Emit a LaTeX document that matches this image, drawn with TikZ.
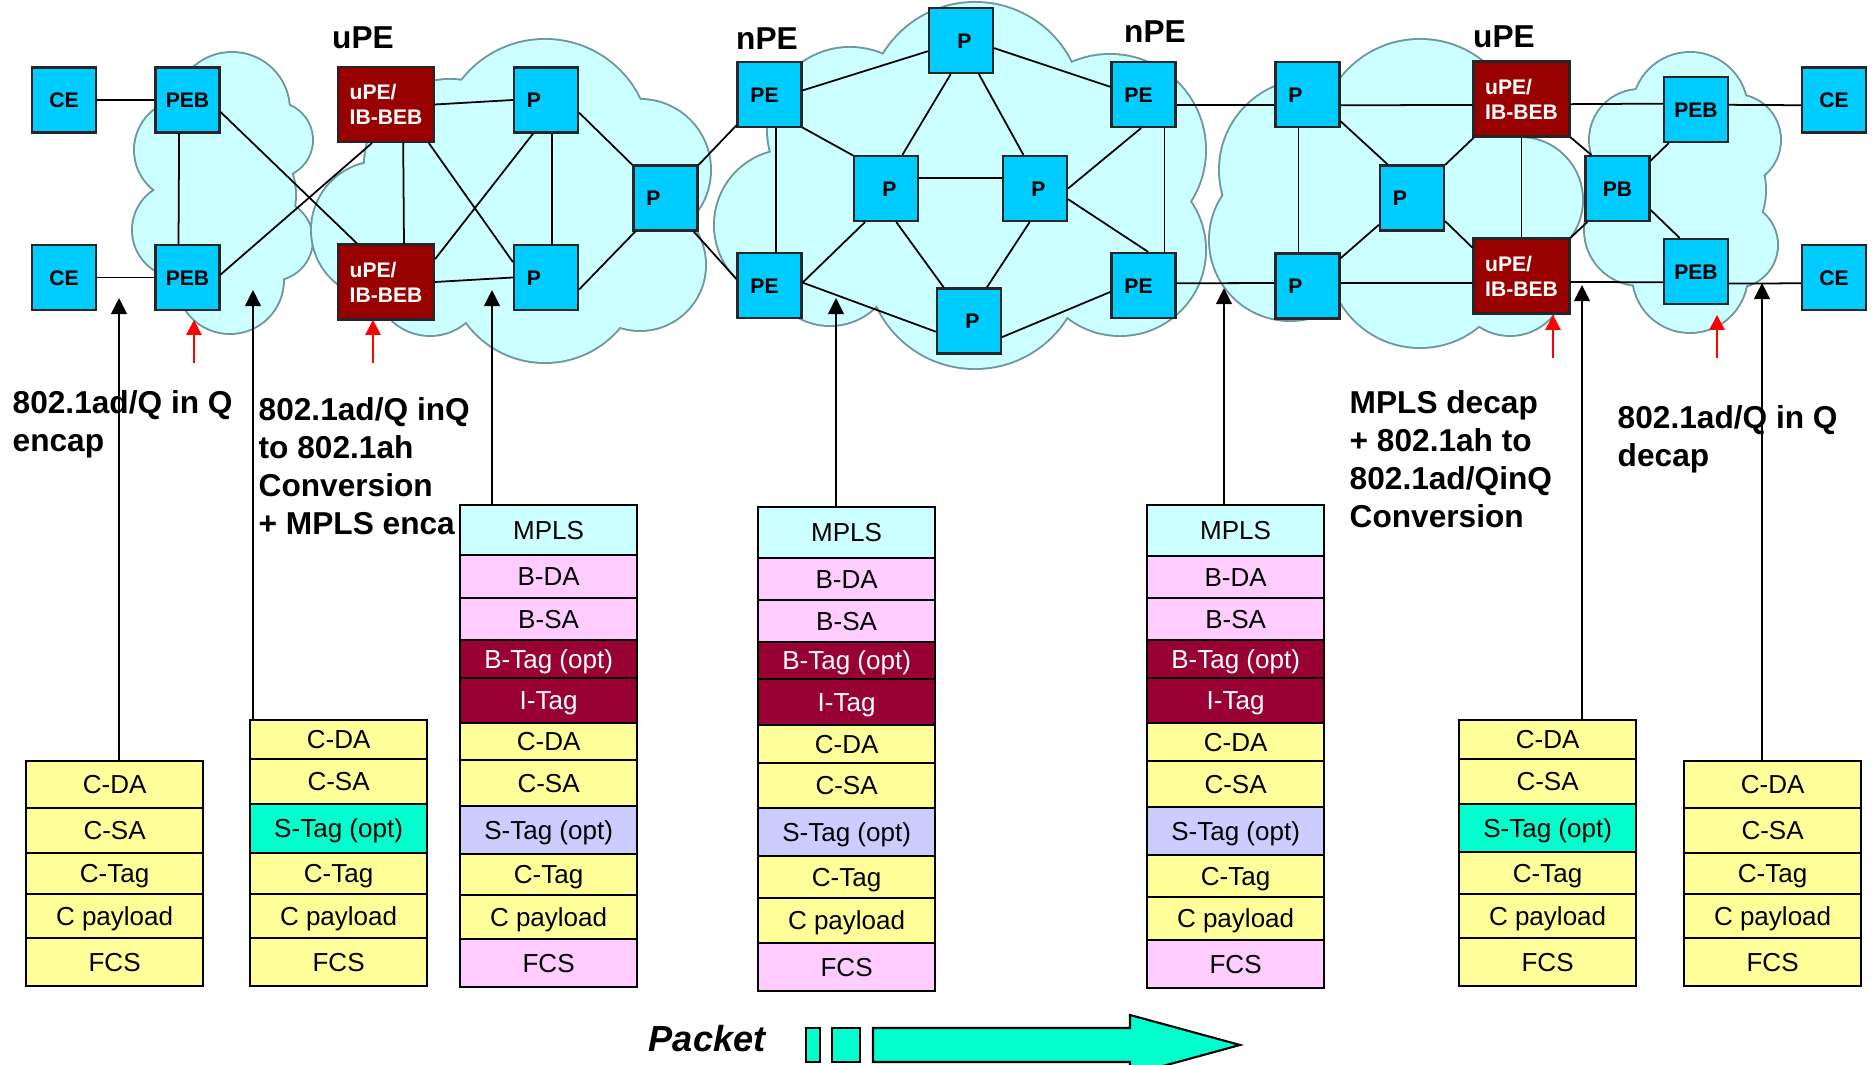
\documentclass[tikz,border=0pt]{standalone}
\usepackage{fontspec}
\setmainfont{Liberation Sans}
\usetikzlibrary{arrows.meta}
\definecolor{boxcyan}{RGB}{0,204,255}
\definecolor{bebred}{RGB}{153,0,0}
\definecolor{cloudfillc}{RGB}{204,255,255}
\definecolor{cloudedgec}{RGB}{110,150,155}
\definecolor{ryel}{RGB}{255,255,153}
\definecolor{rpink}{RGB}{255,204,255}
\definecolor{rmpls}{RGB}{204,255,255}
\definecolor{rcrim}{RGB}{153,0,51}
\definecolor{rlav}{RGB}{204,204,255}
\definecolor{raqua}{RGB}{0,255,204}
\newcommand\fnode{\fontsize{6pt}{7.1pt}\selectfont\bfseries}
\newcommand\frow{\fontsize{7.4pt}{9pt}\selectfont}
\newcommand\fbig{\fontsize{9pt}{10.8pt}\selectfont\bfseries}
\newcommand\fpk{\fontsize{10.3pt}{12pt}\selectfont\bfseries\itshape}
\newcommand\drawcloud[1]{%
  \foreach \cx/\cy/\r in {#1} {\draw[cloudline] (\cx,\cy) circle (\r cm);}
  \foreach \cx/\cy/\r in {#1} {\fill[cloudfillc] (\cx,\cy) circle (\r cm);}}
\newcommand\stackrows[3]{%
  \foreach \lab/\st/\ya/\yb [count=\i] in {#3} {
    \node[stackrow,\st,minimum height={(\yb-\ya)*0.01cm}] (#1-\i) at (#2,\ya) {\lab};}}
\begin{document}
\begin{tikzpicture}[x=0.01cm,y=-0.01cm,
  cloudline/.style={draw=cloudedgec,line width=1.1pt},
  netbox/.style={draw=black!85,line width=0.6pt,fill=boxcyan,minimum width=0.64cm,minimum height=0.65cm,inner sep=0pt,font=\fnode,text height=4.3pt,text depth=0pt},
  bebbox/.style={draw=black!85,line width=0.6pt,fill=bebred,text=white,minimum width=0.96cm,minimum height=0.75cm,inner sep=0pt,font=\fnode,align=left},
  stackrow/.style={draw=black,line width=0.6pt,inner sep=0pt,anchor=north west,minimum width=1.77cm,font=\frow,text height=5.3pt,text depth=0pt},
  yel/.style={fill=ryel},pnk/.style={fill=rpink},mpl/.style={fill=rmpls},
  crim/.style={fill=rcrim,text=white},lav/.style={fill=rlav},aq/.style={fill=raqua},
  conn/.style={line width=0.5pt,black},
  upar/.style={line width=0.55pt,-{Triangle[width=4.5pt,length=4.6pt]}},
  redar/.style={red,line width=0.5pt,-{Triangle[width=4.3pt,length=4.2pt]}},
  bigtxt/.style={font=\fbig,align=left,inner sep=0pt},
  pksq/.style={draw=black,line width=0.6pt,fill=raqua,minimum height=0.34cm,inner sep=0pt}]
\path[use as bounding box] (0,0) rectangle (1875,1065);
% clouds
\drawcloud{232/110/0.57, 185/150/0.50, 180/230/0.47, 230/280/0.53, 275/140/0.37, 272/240/0.40, 225/195/0.70}
\drawcloud{545/145/1.05, 450/165/0.85, 380/230/0.68, 545/265/0.97, 640/170/0.70, 640/265/0.65, 430/280/0.55, 520/200/1.10}
\drawcloud{975/110/1.07, 850/130/0.82, 790/225/0.75, 830/260/0.65, 975/260/1.08, 1110/150/0.95, 1120/250/0.85, 975/190/1.2}
\drawcloud{1420/140/1.00, 1310/170/0.90, 1290/240/0.80, 1420/255/0.92, 1520/200/0.62, 1510/280/0.55, 1410/200/1.10}
\drawcloud{1690/110/0.57, 1640/140/0.50, 1640/230/0.55, 1690/275/0.57, 1735/140/0.45, 1735/245/0.42, 1690/190/0.75}
% network nodes
\node[netbox] (CE1) at (64,100) {CE};
\node[netbox] (CE2) at (64,277.5) {CE};
\node[netbox] (PEB1) at (187.5,100) {PEB};
\node[netbox] (PEB2) at (187.5,277.5) {PEB};
\node[bebbox] (BEB1) at (386,104.5) {uPE/\\IB-BEB};
\node[bebbox] (BEB2) at (386,282) {uPE/\\IB-BEB};
\node[netbox] (P1) at (546,100) {P\kern0.24cm};
\node[netbox] (P2) at (546,277.5) {P\kern0.24cm};
\node[netbox] (P3) at (665.5,198) {P\kern0.24cm};
\node[netbox] (PE1) at (769.5,94.5) {PE\kern0.1cm};
\node[netbox] (PE2) at (769.5,285.5) {PE\kern0.1cm};
\node[netbox] (Ptop) at (961,40.5) {\kern0.07cm P};
\node[netbox] (Pml) at (886,188.5) {\kern0.07cm P};
\node[netbox] (Pmr) at (1035,188.5) {\kern0.07cm P};
\node[netbox] (Pbot) at (969,321) {\kern0.07cm P};
\node[netbox] (PE3) at (1143.5,94.5) {PE\kern0.1cm};
\node[netbox] (PE4) at (1143.5,285.5) {PE\kern0.1cm};
\node[netbox] (P4) at (1307.5,94.5) {P\kern0.24cm};
\node[netbox] (P5) at (1307.5,286) {P\kern0.24cm};
\node[netbox] (P6) at (1412,198) {P\kern0.24cm};
\node[bebbox] (BEB3) at (1521.5,99) {uPE/\\IB-BEB};
\node[bebbox] (BEB4) at (1521.5,276) {uPE/\\IB-BEB};
\node[netbox] (PB) at (1617.5,188.5) {PB};
\node[netbox] (PEB3) at (1696,109.5) {PEB};
\node[netbox] (PEB4) at (1696,271.5) {PEB};
\node[netbox] (CE3) at (1834,100) {CE};
\node[netbox] (CE4) at (1834,277.5) {CE};
% links
\draw[conn] (CE1.east) -- (PEB1.west);
\draw[conn] (CE2.east) -- (PEB2.west);
\draw[conn] (PEB1.-104) -- (PEB2.105);
\draw[conn] (PEB1.-20) -- (BEB2.127);
\draw[conn] (PEB2.5) -- (BEB1.-110);
\draw[conn] (BEB1.east) -- (P1.west);
\draw[conn] (BEB2.east) -- (P2.west);
\draw[conn] (BEB1.-66) -- (BEB2.65);
\draw[conn] (BEB1.-42) -- (P2.155);
\draw[conn] (BEB2.25) -- (P1.-111);
\draw[conn] (P1.-80) -- (P2.80);
\draw[conn] (P1.-21) -- (P3.135);
\draw[conn] (P2.-20) -- (P3.-132);
\draw[conn] (P3.45) -- (PE1.-137);
\draw[conn] (P3.-50) -- (PE2.169);
\draw[conn] (PE1.7) -- (Ptop.198);
\draw[conn] (PE1.-45) -- (Pml.135);
\draw[conn] (PE1.-79) -- (PE2.79);
\draw[conn] (Ptop.-107) -- (Pml.64);
\draw[conn] (Ptop.-62) -- (Pmr.109);
\draw[conn] (Ptop.-13) -- (PE3.167);
\draw[conn] (Pml.17) -- (Pmr.163);
\draw[conn] (Pmr.east) -- (PE3.-94);
\draw[conn] (Pmr.-18) -- (PE4.82);
\draw[conn] (PE3.-58) -- (PE4.58);
\draw[conn] (Pml.-122) -- (PE2.5);
\draw[conn] (PE2.5) -- (Pbot.198);
\draw[conn] (Pml.-73) -- (Pbot.127);
\draw[conn] (Pmr.-99) -- (Pbot.62);
\draw[conn] (Pbot.-26) -- (PE4.191);
\draw[conn] (PE3.-18) -- (P4.198);
\draw[conn] (PE4.4) -- (P5.175);
\draw[conn] (P4.-18) -- (BEB3.187);
\draw[conn] (P5.5) -- (BEB4.188);
\draw[conn] (P4.-105) -- (P5.105);
\draw[conn] (P4.-39) -- (P6.126);
\draw[conn] (P5.40) -- (P6.219);
\draw[conn] (P6.45) -- (BEB3.219);
\draw[conn] (P6.-35) -- (BEB4.150);
\draw[conn] (BEB3.south) -- (BEB4.north);
\draw[conn] (BEB3.-6) -- (PEB3.170);
\draw[conn] (BEB4.-7) -- (PEB4.198);
\draw[conn] (BEB3.-38) -- (PB.128);
\draw[conn] (BEB4.38) -- (PB.228);
\draw[conn] (PB.40) -- (PEB3.231);
\draw[conn] (PB.-33) -- (PEB4.116);
\draw[conn] (PEB3.8) -- (CE3.189);
\draw[conn] (PEB4.-20) -- (CE4.190);
% header labels
\node[font=\fbig,inner sep=0pt,anchor=base] (hl1) at (363,49) {uPE};
\node[font=\fbig,inner sep=0pt,anchor=base] (hl2) at (767,50) {nPE};
\node[font=\fbig,inner sep=0pt,anchor=base] (hl3) at (1155,43) {nPE};
\node[font=\fbig,inner sep=0pt,anchor=base] (hl4) at (1504,48) {uPE};
% descriptions
\node[bigtxt,anchor=north west] (d1) at (12,390) {802.1ad/Q in Q\\encap};
\node[bigtxt,anchor=north west] (d2) at (258,397) {802.1ad/Q inQ\\to 802.1ah\\Conversion\\+ MPLS enca};
\node[bigtxt,anchor=north west] (d3) at (1349,390) {MPLS decap\\+ 802.1ah to\\802.1ad/QinQ\\Conversion};
\node[bigtxt,anchor=north west] (d4) at (1617,405) {802.1ad/Q in Q\\decap};
% stacks
\stackrows{s1}{25}{C-DA/yel/760/807, C-SA/yel/807/852, C-Tag/yel/852/893, C payload/yel/893/937, FCS/yel/937/985}
\stackrows{s2}{249}{C-DA/yel/719/758, C-SA/yel/758/803, {S-Tag (opt)}/aq/803/852, C-Tag/yel/852/893, C payload/yel/893/937, FCS/yel/937/985}
\stackrows{s3}{459}{MPLS/mpl/504/554, B-DA/pnk/554/597, B-SA/pnk/597/639, {B-Tag (opt)}/crim/639/677, I-Tag/crim/677/722, C-DA/yel/722/759, C-SA/yel/759/805, {S-Tag (opt)}/lav/805/853, C-Tag/yel/853/894, C payload/yel/894/938, FCS/pnk/938/986}
\stackrows{s4}{757}{MPLS/mpl/506/557, B-DA/pnk/557/599, B-SA/pnk/599/641, {B-Tag (opt)}/crim/641/678, I-Tag/crim/678/724, C-DA/yel/724/762, C-SA/yel/762/807, {S-Tag (opt)}/lav/807/855, C-Tag/yel/855/897, C payload/yel/897/942, FCS/pnk/942/990}
\stackrows{s5}{1146}{MPLS/mpl/504/555, B-DA/pnk/555/597, B-SA/pnk/597/639, {B-Tag (opt)}/crim/639/677, I-Tag/crim/677/722, C-DA/yel/722/760, C-SA/yel/760/806, {S-Tag (opt)}/lav/806/854, C-Tag/yel/854/896, C payload/yel/896/939, FCS/pnk/939/987}
\stackrows{s6}{1458}{C-DA/yel/719/758, C-SA/yel/758/803, {S-Tag (opt)}/aq/803/851, C-Tag/yel/851/893, C payload/yel/893/937, FCS/yel/937/985}
\stackrows{s7}{1683}{C-DA/yel/760/807, C-SA/yel/807/852, C-Tag/yel/852/893, C payload/yel/893/937, FCS/yel/937/985}
% black arrows
\coordinate (a1) at (119,298);
\coordinate (a2) at (253,290);
\coordinate (a3) at (492,290);
\coordinate (a4) at (836,298);
\coordinate (a5) at (1224,288);
\coordinate (a6) at (1582,285);
\coordinate (a7) at (1762,283);
\draw[upar] (a1 |- s1-1.north) -- (a1);
\draw[upar] (a2 |- s2-1.north) -- (a2);
\draw[upar] (a3 |- s3-1.north) -- (a3);
\draw[upar] (a4 |- s4-1.north) -- (a4);
\draw[upar] (a5 |- s5-1.north) -- (a5);
\draw[upar] (a6 |- s6-1.north) -- (a6);
\draw[upar] (a7 |- s7-1.north) -- (a7);
% red arrows
\coordinate (r1s) at (194,363); \coordinate (r1e) at (194,320);
\coordinate (r2s) at (373,363); \coordinate (r2e) at (373,320);
\coordinate (r3s) at (1553,358); \coordinate (r3e) at (1553,315);
\coordinate (r4s) at (1717,358); \coordinate (r4e) at (1717,315);
\draw[redar] (r1s) -- (r1e);
\draw[redar] (r2s) -- (r2e);
\draw[redar] (r3s) -- (r3e);
\draw[redar] (r4s) -- (r4e);
% packet legend
\node[font=\fpk,inner sep=0pt,anchor=base west] (pk) at (648,1052) {Packet};
\node[pksq,minimum width=0.14cm] (sq1) at (813,1045) {};
\node[pksq,minimum width=0.28cm] (sq2) at (846,1045) {};
\draw[fill=raqua,line width=0.6pt] (873,1028) -- (1130,1028) -- (1130,1015) -- (1240,1045) -- (1130,1075) -- (1130,1062) -- (873,1062) -- cycle;
\end{tikzpicture}
\end{document}
